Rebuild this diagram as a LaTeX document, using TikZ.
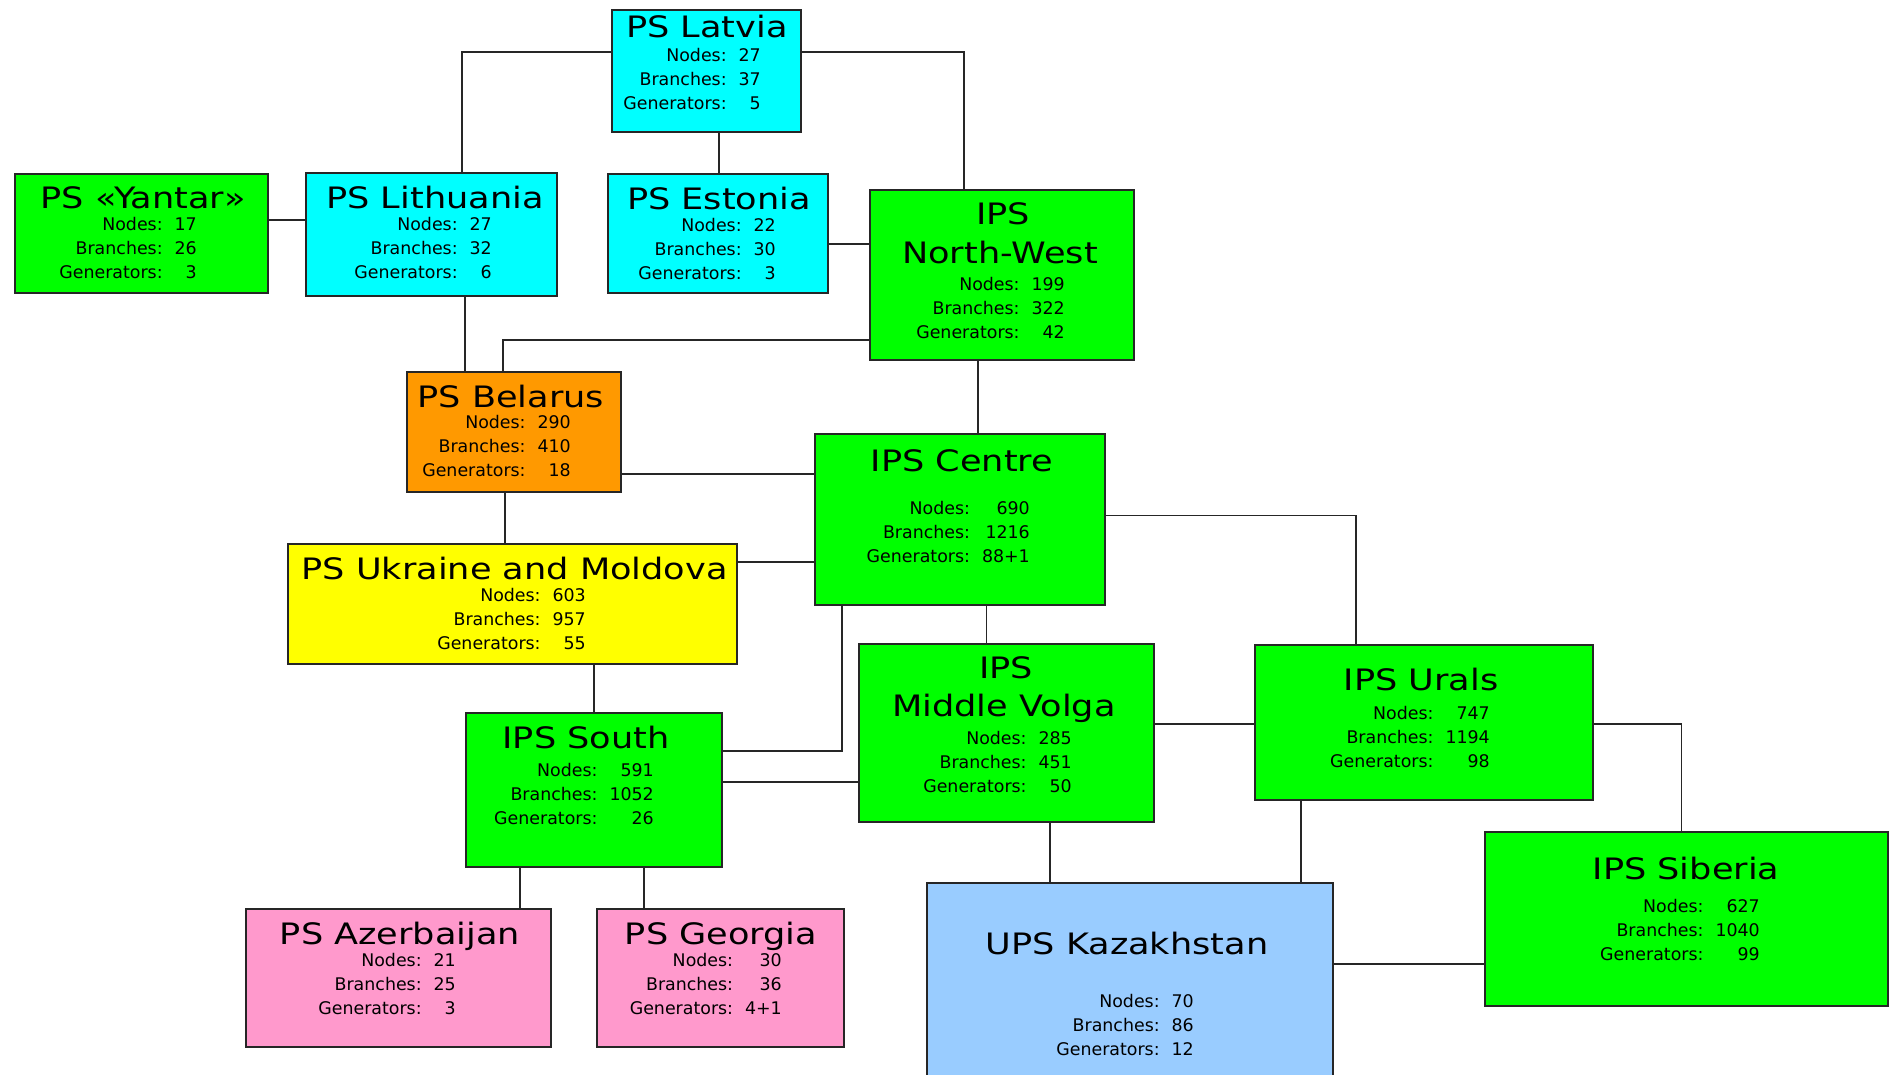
\documentclass[tikz,border=0pt]{standalone}
\usepackage{fontspec}
\setmainfont{DejaVu Sans}
\newfontfamily\titlefont{DejaVu Sans}[FakeStretch=1.19]
\definecolor{cyanb}{HTML}{00FFFF}
\definecolor{greenb}{HTML}{00FF00}
\definecolor{orangeb}{HTML}{FF9900}
\definecolor{yellowb}{HTML}{FFFF00}
\definecolor{pinkb}{HTML}{FF99CC}
\definecolor{blueb}{HTML}{99CCFF}
\newcommand\statlines[3]{\begin{tabular}{@{}r@{\hspace{12pt}}r@{}}Nodes: & #1\\ Branches: & #2\\ Generators: & #3\end{tabular}}
\begin{document}
\begin{tikzpicture}[x=1pt,y=-1pt,
  box/.style={draw=black!85, line width=1.6pt, rectangle, inner sep=0pt, anchor=north west},
  ttl/.style={font=\titlefont\fontsize{29.5}{35}\selectfont, inner sep=0pt, anchor=base},
  stat/.style={font=\fontsize{17.4}{24}\selectfont, inner sep=0pt, anchor=east},
  link/.style={draw=black!85, line width=1.3pt}]
\useasboundingbox[fill=white] (0,0) rectangle (1893,1074);

% boxes
\node[box, fill=cyanb, minimum width=189pt, minimum height=122pt] (latvia) at (611,9) {};
\node[box, fill=greenb, minimum width=253pt, minimum height=119pt] (yantar) at (14,173) {};
\node[box, fill=cyanb, minimum width=251pt, minimum height=123pt] (lithuania) at (305,172) {};
\node[box, fill=cyanb, minimum width=220pt, minimum height=119pt] (estonia) at (607,173) {};
\node[box, fill=greenb, minimum width=264pt, minimum height=170pt] (nw) at (869,189) {};
\node[box, fill=orangeb, minimum width=214pt, minimum height=120pt] (belarus) at (406,371) {};
\node[box, fill=greenb, minimum width=290pt, minimum height=171pt] (centre) at (814,433) {};
\node[box, fill=yellowb, minimum width=449pt, minimum height=120pt] (ukraine) at (287,543) {};
\node[box, fill=greenb, minimum width=256pt, minimum height=154pt] (south) at (465,712) {};
\node[box, fill=greenb, minimum width=295pt, minimum height=178pt] (mv) at (858,643) {};
\node[box, fill=greenb, minimum width=338pt, minimum height=155pt] (urals) at (1254,644) {};
\node[box, fill=greenb, minimum width=403pt, minimum height=174pt] (siberia) at (1484,831) {};
\node[box, fill=blueb, minimum width=406pt, minimum height=210pt] (kaz) at (926,882) {};
\node[box, fill=pinkb, minimum width=305pt, minimum height=138pt] (azer) at (245,908) {};
\node[box, fill=pinkb, minimum width=247pt, minimum height=138pt] (georgia) at (596,908) {};

% connectors
\draw[link] (latvia.west |- 0,52) -| (462,0 |- lithuania.north);
\draw[link] (latvia.east |- 0,52) -| (964,0 |- nw.north);
\draw[link] (719,0 |- latvia.south) -- (719,0 |- estonia.north);
\draw[link] (yantar.east |- 0,220) -- (lithuania.west |- 0,220);
\draw[link, line width=2pt] (estonia.east |- 0,244) -- (nw.west |- 0,244);
\draw[link] (nw.west |- 0,340) -| (503,0 |- belarus.north);
\draw[link] (465,0 |- lithuania.south) -- (465,0 |- belarus.north);
\draw[link] (978,0 |- nw.south) -- (978,0 |- centre.north);
\draw[link] (belarus.east |- 0,474) -- (centre.west |- 0,474);
\draw[link] (505,0 |- belarus.south) -- (505,0 |- ukraine.north);
\draw[link] (ukraine.east |- 0,562) -- (centre.west |- 0,562);
\draw[link] (594,0 |- ukraine.south) -- (594,0 |- south.north);
\draw[link] (842,0 |- centre.south) |- (south.east |- 0,751);
\draw[link] (south.east |- 0,782) -- (mv.west |- 0,782);
\draw[link] (986.5,0 |- centre.south) -- (986.5,0 |- mv.north);
\draw[link] (centre.east |- 0,515.5) -| (1356,0 |- urals.north);
\draw[link] (mv.east |- 0,724) -- (urals.west |- 0,724);
\draw[link] (urals.east |- 0,724) -| (1681.5,0 |- siberia.north);
\draw[link] (1050,0 |- mv.south) -- (1050,0 |- kaz.north);
\draw[link] (1301,0 |- urals.south) -- (1301,0 |- kaz.north);
\draw[link] (kaz.east |- 0,964) -- (siberia.west |- 0,964);
\draw[link] (520,0 |- south.south) -- (520,0 |- azer.north);
\draw[link] (644,0 |- south.south) -- (644,0 |- georgia.north);

% titles
\node[ttl] (latviaT) at (707,37.5) {PS Latvia};
\node[ttl] (yantarT) at (143,208.5) {PS «Yantar»};
\node[ttl] (lithuaniaT) at (435,208.5) {PS Lithuania};
\node[ttl] (estoniaT) at (719,209.5) {PS Estonia};
\node[ttl] (nwT1) at (1003,224.5) {IPS};
\node[ttl] (nwT2) at (1000,263.5) {North-West};
\node[ttl] (belarusT) at (511,407) {PS Belarus};
\node[ttl] (centreT) at (962,471.5) {IPS Centre};
\node[ttl] (ukraineT) at (514.5,579.5) {PS Ukraine and Moldova};
\node[ttl] (southT) at (586,748.5) {IPS South};
\node[ttl] (mvT1) at (1006,678.5) {IPS};
\node[ttl] (mvT2) at (1004,716.5) {Middle Volga};
\node[ttl] (uralsT) at (1421,690) {IPS Urals};
\node[ttl] (siberiaT) at (1686,879.5) {IPS Siberia};
\node[ttl] (kazT) at (1127,954.5) {UPS Kazakhstan};
\node[ttl] (azerT) at (400,944) {PS Azerbaijan};
\node[ttl] (georgiaT) at (721,944) {PS Georgia};

% statistics
\node[stat] (latviaS) at (761,80.5) {\statlines{27}{37}{5}};
\node[stat] (yantarS) at (197,249.5) {\statlines{17}{26}{3}};
\node[stat] (lithuaniaS) at (492,249.5) {\statlines{27}{32}{6}};
\node[stat] (estoniaS) at (776,250.5) {\statlines{22}{30}{3}};
\node[stat] (nwS) at (1065,309.5) {\statlines{199}{322}{42}};
\node[stat] (belarusS) at (571,447.5) {\statlines{290}{410}{18}};
\node[stat] (centreS) at (1030,533.5) {\statlines{690}{1216}{88+1}};
\node[stat] (ukraineS) at (586,620.5) {\statlines{603}{957}{55}};
\node[stat] (southS) at (654,795.5) {\statlines{591}{1052}{26}};
\node[stat] (mvS) at (1072,763.5) {\statlines{285}{451}{50}};
\node[stat] (uralsS) at (1490,738.5) {\statlines{747}{1194}{98}};
\node[stat] (siberiaS) at (1760,931.5) {\statlines{627}{1040}{99}};
\node[stat] (kazS) at (1194,1026.5) {\statlines{70}{86}{12}};
\node[stat] (azerS) at (456,985.5) {\statlines{21}{25}{3}};
\node[stat] (georgiaS) at (782,985.5) {\statlines{30}{36}{4+1}};
\end{tikzpicture}
\end{document}
